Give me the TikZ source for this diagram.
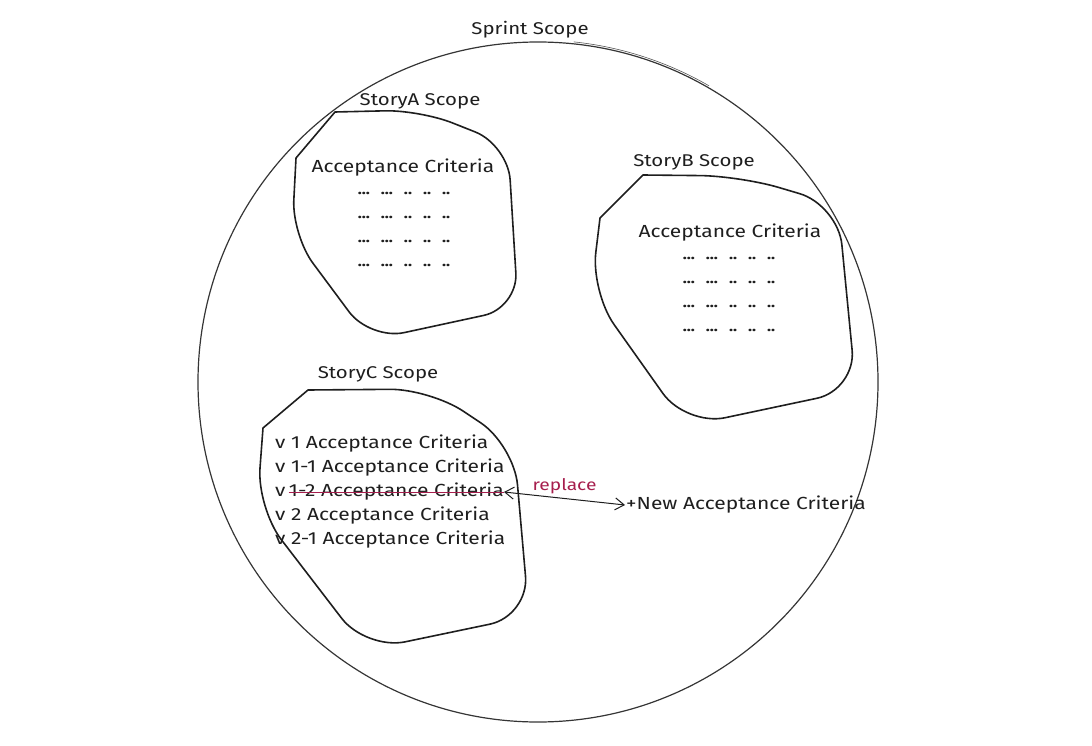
\documentclass[tikz,border=0pt]{standalone}
\usepackage{fontspec}
\setmainfont{Fira Sans}[FakeStretch=1.2]
\usepackage{tikz}
\usetikzlibrary{arrows.meta,positioning,calc}
\definecolor{ink}{HTML}{1E1E1E}
\definecolor{rose}{HTML}{A61E4D}

\begin{document}
\begin{tikzpicture}[x=1pt, y=-1pt,
    scope/.style={draw=ink, line width=1.6pt, line join=round, line cap=round},
    title/.style={font=\fontsize{17}{20}\selectfont, text=ink, inner sep=1pt},
    crit/.style={font=\fontsize{17.5}{21}\selectfont, text=ink, inner sep=1pt},
    dots/.style={font=\fontsize{14}{16}\selectfont\bfseries, text=ink, inner sep=0pt},
    line/.style={font=\fontsize{17.5}{21}\selectfont, text=ink, inner sep=1pt, anchor=west},
    arrow/.style={<->, ink, line width=1pt, >={Straight Barb[length=9pt, width=12pt]}}
]
    \useasboundingbox (0,0) rectangle (1092,746);
    \newcommand{\dotrow}{...\hspace{11pt}...\hspace{11pt}..\hspace{11pt}..\hspace{11pt}..}

    % Sprint scope
    \draw[ink!90, line width=1.2pt] (538,382) circle (340);
    \draw[ink!75, line width=0.6pt] (538,382) ++(276:342) arc[start angle=276, end angle=300, radius=342];
    \node[title] (sprint) at (530,30) {Sprint Scope};

    % StoryA
    \draw[scope] (335,112) -- (296,158) [rounded corners=35] -- (292,235) -- (370,340) -- (518,308) -- (508,145) -- (420,110) [sharp corners] -- (335,112);
    \node[title] (labela) at (420,101) {StoryA Scope};
    \node[crit] (crita) at (403,168) {Acceptance Criteria};
    \foreach \y in {193,217,241,265}
        \node[dots] at (404,\y) {\dotrow};

    % StoryB
    \draw[scope] (643,175) -- (600,218) [rounded corners=40] -- (591,292) -- (686,426) -- (856,390) -- (838,205) -- (740,176) [sharp corners] -- (643,175);
    \node[title] (labelb) at (694,162) {StoryB Scope};
    \node[crit] (critb) at (730,233) {Acceptance Criteria};
    \foreach \y in {258,282,306,330}
        \node[dots] at (729,\y) {\dotrow};

    % StoryC
    \draw[scope] (308,390) -- (263,428) [rounded corners=40] -- (257,508) -- (366,650) -- (529,616) -- (514,445) -- (430,389) [sharp corners] -- (308,390);
    \node[title] (labelc) at (378,374) {StoryC Scope};
    \node[line] (c1) at (274,444) {v 1 Acceptance Criteria};
    \node[line] (c2) at (274,468) {v 1-1 Acceptance Criteria};
    \node[line] (c3) at (274,492) {v};
    \node[line, right=2pt of c3, inner sep=0pt] (c3txt) {1-2 Acceptance Criteria};
    \node[line] (c4) at (274,516) {v 2 Acceptance Criteria};
    \node[line] (c5) at (274,540) {v 2-1 Acceptance Criteria};
    \draw[rose, line width=1pt] (c3txt.west) -- (c3txt.east);

    % Replacement
    \node[line] (newac) at (625,505) {+New Acceptance Criteria};
    \draw[arrow] (c3txt.east) -- (newac.west) node[midway, above=1pt, font=\fontsize{16}{19}\selectfont, text=rose] {replace};
\end{tikzpicture}
\end{document}
